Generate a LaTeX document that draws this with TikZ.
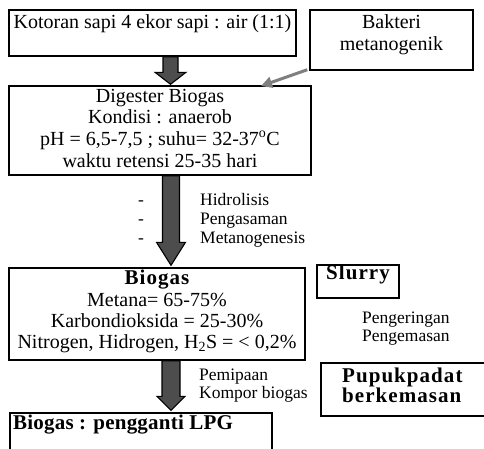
\documentclass[tikz,border=0pt]{standalone}
\usepackage{fontspec}
\setmainfont{Liberation Serif}
\newfontfamily\bsp[LetterSpace=5]{Liberation Serif}
\newfontfamily\bspl[LetterSpace=1]{Liberation Serif}
\usetikzlibrary{calc,arrows.meta}
\definecolor{arrfill}{HTML}{4D4D4D}
\definecolor{garrow}{HTML}{7F7F7F}
\begin{document}
\begin{tikzpicture}[x=1pt,y=-1pt,
  box/.style={draw, line width=1.4pt, inner sep=0pt},
  txt/.style={font=\fontsize{20}{22}\selectfont, inner sep=0pt, anchor=base},
  btxt/.style={font=\fontsize{21}{22}\selectfont\bsp\bfseries, inner sep=0pt, anchor=base},
  stxt/.style={font=\fontsize{17.5}{18}\selectfont, inner sep=0pt, anchor=base west},
  blk/.style={draw, line width=1.1pt, fill=arrfill, line join=miter},
  garr/.style={draw=garrow, line width=3pt, -{Triangle[width=11pt,length=11pt]}}]
\useasboundingbox (0,0) rectangle (484,448);

% boxes
\node[box, minimum width=287pt, minimum height=46pt] (k) at (152.5,33) {};
\node[txt] (kt) at (152.5,28) {Kotoran sapi 4 ekor sapi : air (1:1)};

\node[box, minimum width=163pt, minimum height=60pt] (bk) at (391.5,40) {};
\node[txt] (bk1) at (391.5,28) {Bakteri};
\node[txt] (bk2) at (391.5,50) {metanogenik};

\node[box, minimum width=302pt, minimum height=89pt] (d) at (160,130.5) {};
\node[txt] (d1) at (160,102) {Digester Biogas};
\node[txt] (d2) at (160,123.5) {Kondisi : anaerob};
\node[txt] (d3) at (160,145) {pH = 6,5-7,5 ; suhu= 32-37\textsuperscript{o}C};
\node[txt] (d4) at (160,167) {waktu retensi 25-35 hari};

\node[box, minimum width=296pt, minimum height=92pt] (b) at (157,314) {};
\node[btxt] (bh) at (157,284) {Biogas};
\node[txt] (b1) at (157,306) {Metana= 65-75\%};
\node[txt] (b2) at (157,327) {Karbondioksida = 25-30\%};
\node[txt] (b3) at (157,348) {Nitrogen, Hidrogen, H\textsubscript{2}S = < 0,2\%};

\node[box, minimum width=82pt, minimum height=33pt] (s) at (358,281.5) {};
\node[btxt] (st) at (358,279) {Slurry};

\node[box, minimum width=170pt, minimum height=53pt] (p) at (406,389.5) {};
\node[btxt, anchor=base west] (p1) at (342,382) {Pupukpadat};
\node[btxt, anchor=base west] (p2) at (342,402) {berkemasan};

\node[box, minimum width=262pt, minimum height=45pt] (l) at (141,435.5) {};
\node[btxt, anchor=base west, font=\fontsize{21}{22}\selectfont\bspl\bfseries] (lt) at (13,429) {Biogas : pengganti LPG};

% side texts
\node[stxt] (h1) at (200,205) {Hidrolisis};
\node[stxt] (h2) at (200,224) {Pengasaman};
\node[stxt] (h3) at (200,243) {Metanogenesis};
\node[stxt, anchor=base] (m1) at (141,205) {-};
\node[stxt, anchor=base] (m2) at (141,224) {-};
\node[stxt, anchor=base] (m3) at (141,243) {-};

\node[stxt] (pg1) at (362,323) {Pengeringan};
\node[stxt] (pg2) at (362,341) {Pengemasan};

\node[stxt] (pm1) at (199,380) {Pemipaan};
\node[stxt] (pm2) at (199,398) {Kompor biogas};

% block arrows
\coordinate (x1) at (170.5,0);
\coordinate (x2) at (171,0);
\coordinate (x3) at (171,0);
\draw[blk] ($(k.south -| x1)+(-7.5,0)$) -- ($(d.north -| x1)+(-7.5,-13)$) -- ($(d.north -| x1)+(-15.5,-13)$)
  -- ($(d.north -| x1)+(0,-1)$) -- ($(d.north -| x1)+(15.5,-13)$) -- ($(d.north -| x1)+(7.5,-13)$)
  -- ($(k.south -| x1)+(7.5,0)$) -- cycle;
\draw[blk] ($(d.south -| x2)+(-8.5,0)$) -- ($(b.north -| x2)+(-8.5,-25)$) -- ($(b.north -| x2)+(-14.5,-25)$)
  -- ($(b.north -| x2)+(0,-2)$) -- ($(b.north -| x2)+(14.5,-25)$) -- ($(b.north -| x2)+(8.5,-25)$)
  -- ($(d.south -| x2)+(8.5,0)$) -- cycle;
\draw[blk] ($(b.south -| x3)+(-9,0)$) -- ($(l.north -| x3)+(-9,-16)$) -- ($(l.north -| x3)+(-14,-16)$)
  -- ($(l.north -| x3)+(0,-2)$) -- ($(l.north -| x3)+(14,-16)$) -- ($(l.north -| x3)+(9,-16)$)
  -- ($(b.south -| x3)+(9,0)$) -- cycle;

% gray arrow
\coordinate (gt) at (261,86);
\draw[garr] ($(bk.south west)+(-2,-1)$) -- (gt);
\end{tikzpicture}
\end{document}
